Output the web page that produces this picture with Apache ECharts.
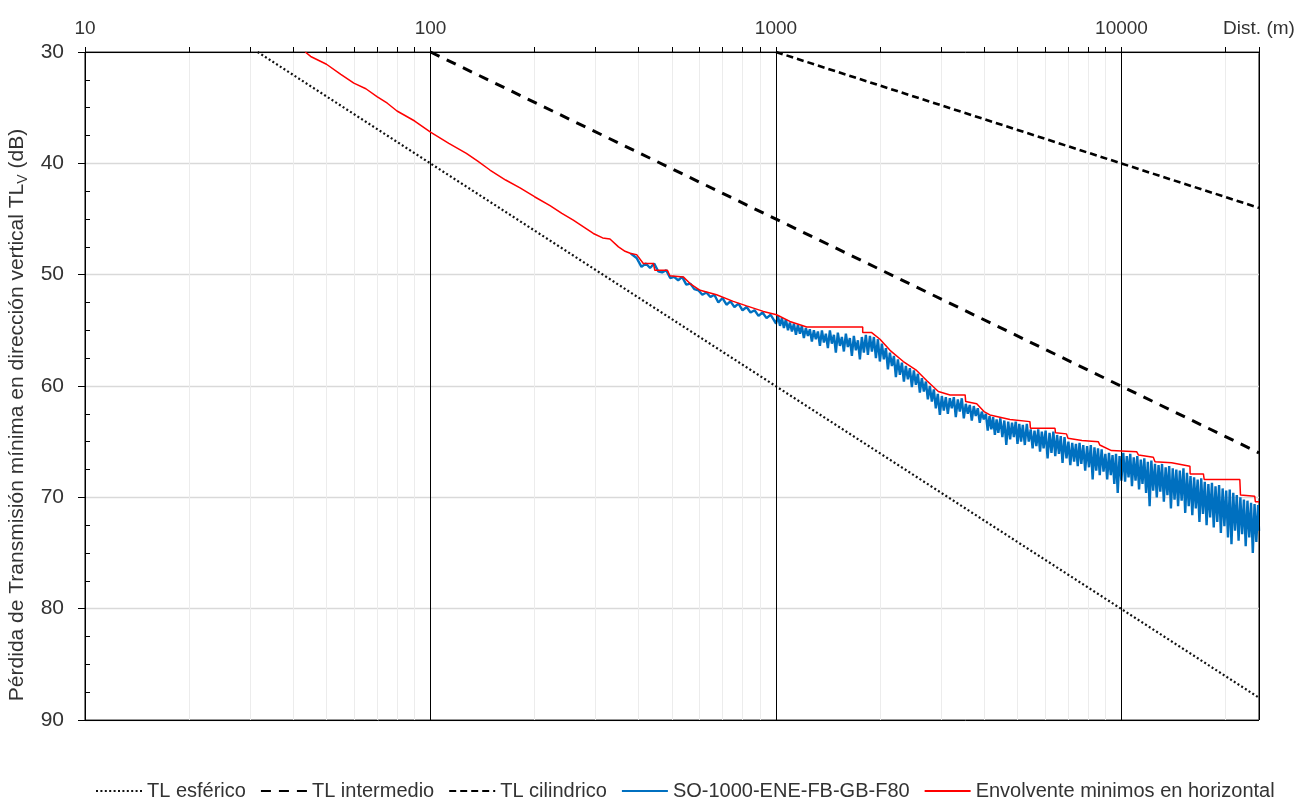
<!DOCTYPE html>
<html>
<head>
<meta charset="utf-8">
<script src="https://cdn.jsdelivr.net/npm/echarts@6/dist/echarts.min.js"></script>
<style>
html,body{margin:0;padding:0;background:#fff;}
#chart{width:1308px;height:804px;}
</style>
</head>
<body>
<div id="chart"></div>
<script>
// ---------- data ----------
const xTickValues = [10,20,30,40,50,60,70,80,90,100,200,300,400,500,600,700,800,900,1000,2000,3000,4000,5000,6000,7000,8000,9000,10000,20000,25000];
const xLabelValues = [10,100,1000,10000,25000];
const xAxisTitle = 'Dist. (m)';
const majorDistLines = [100,1000,10000,25000];

const seriesNames = ['TL esférico','TL intermedio','TL cilindrico','SO-1000-ENE-FB-GB-F80','Envolvente minimos en horizontal'];

const sphericalTL = [[31.6,30],[25000,88]];
const intermediateTL = [[100,30],[25000,66]];
const cylindricalTL = [[1000,30],[25000,44]];

const envelopeTL = [
[43.4,30.0],[45,30.4],[50,31.1],[55,32.0],[60,32.8],[65,33.3],[70,34.0],[75,34.6],[80,35.3],[90,36.2],
[100,37.2],[113,38.2],[127,39.1],[137,39.8],[148.6,40.6],[165,41.5],[181.6,42.2],[200,43.0],[221.8,43.8],[240,44.5],
[259,45.1],[280,45.8],[296,46.3],[315,46.7],[330.7,46.8],[350,47.5],[365.7,47.9],[380,48.1],[395,48.2],[413,49.0],
[441.6,49.0],[446,49.6],[485,49.6],[493,50.1],[539,50.2],[564,50.8],[603,51.4],[673,51.8],[752,52.4],[822,52.8],
[919,53.3],[1004,53.6],[1097,54.2],[1227,54.7],[1782,54.7],[1782,55.2],[1892,55.2],[2000,55.8],[2138,56.8],[2336,57.8],
[2552,58.6],[2728,59.5],[2950,60.5],[3190,60.8],[3527,60.8],[3540,61.4],[3810,61.6],[4000,62.3],[4160,62.6],[4755,63.0],
[5431,63.2],[5450,63.8],[6420,63.8],[6440,64.2],[6930,64.3],[7000,64.7],[7680,64.9],[8570,65.0],[8650,65.3],[9350,65.8],
[11060,65.9],[11200,66.2],[12360,66.4],[12500,66.8],[13960,66.9],[15780,67.2],[15800,67.9],[17260,67.9],[17350,68.4],[22000,68.4],
[22100,69.8],[24300,69.9],[24400,70.4],[25000,70.4]
];

const measuredTL = [
[380,48.1],[395,48.5],[408,49.3],[420,49.0],[432,49.4],[444,49.0],[456,49.7],[468,49.8],[481,49.6],[494,50.3],
[507,50.2],[521,50.5],[535,50.2],[550,50.9],[565,50.8],[580,51.3],[596,51.4],[612,51.8],[629,51.6],[646,52.0],
[663,51.8],[681,52.5],[700,52.1],[719,52.7],[738,52.4],[758,52.9],[779,52.6],[800,53.2],[822,52.9],[844,53.4],
[867,53.2],[890,53.7],[914,53.4],[939,53.9],[965,53.6],[991,54.2],
[1000,54.4],[1013,53.7],[1027,54.6],[1040,53.9],[1054,54.8],[1068,54.0],[1083,55.0],[1097,54.3],[1112,55.1],[1127,54.4],
[1142,55.4],[1157,54.5],[1173,55.3],[1188,54.6],[1204,55.7],[1220,54.8],[1237,55.5],[1253,54.9],[1270,56.0],[1287,55.0],
[1304,55.8],[1322,55.1],[1340,56.4],[1358,55.0],[1376,56.1],[1394,55.3],[1413,56.6],[1432,55.0],[1451,56.2],[1471,55.4],
[1490,57.0],[1510,55.2],[1531,56.4],[1551,55.6],[1572,56.9],[1593,55.3],[1614,56.5],[1636,55.7],[1658,57.3],[1680,55.5],
[1703,56.8],[1726,55.9],[1749,57.6],[1772,55.6],[1796,57.0],
[1820,55.4],[1845,57.2],[1870,55.5],[1895,56.9],[1920,55.6],[1946,57.5],[1972,55.8],[1998,57.8],[2025,56.2],[2052,57.6],
[2080,56.6],[2108,58.5],[2136,57.0],[2165,58.2],[2194,57.3],[2223,59.2],[2253,57.6],[2283,59.0],[2314,57.9],[2345,59.6],
[2376,58.2],[2408,59.4],[2440,58.4],[2473,60.1],[2506,58.6],[2540,59.9],[2574,58.9],[2608,60.6],[2643,59.3],[2679,60.5],
[2715,59.6],[2751,61.2],[2788,60.0],[2825,61.4],[2863,60.3],[2901,62.0],[2940,60.7],[2980,62.6],[3020,60.9],[3060,62.2],
[3101,61.0],[3143,62.5],[3185,61.1],[3227,62.0],[3271,61.0],[3314,62.8],[3359,61.2],[3404,62.3],[3449,61.1],[3496,62.9],
[3542,61.6],[3590,62.5],[3638,61.7],[3687,63.1],[3736,61.8],[3786,62.7],[3837,62.0],[3888,63.3],[3940,62.3],[3993,63.0],
[4050,62.5],[4100,64.0],[4150,62.7],[4200,63.9],[4250,62.8],[4300,64.4],[4350,63.0],[4400,64.2],[4460,62.9],[4520,64.6],
[4580,63.1],[4640,65.3],[4700,63.2],[4760,64.8],[4820,63.3],[4880,64.6],[4940,63.2],[5000,65.2],[5060,63.4],[5120,65.0],
[5180,63.5],[5250,65.3],[5320,63.4],[5390,65.0],[5460,63.9],[5530,65.6],[5600,64.0],[5670,65.4],[5740,63.9],[5810,65.9],
[5880,64.1],[5950,65.6],[6030,64.0],[6110,66.5],[6190,64.2],[6270,66.0],[6350,64.1],[6430,66.3],[6510,64.4],[6590,66.1],
[6670,64.5],[6750,66.9],[6840,64.6],[6930,66.5],[7020,65.0],[7110,67.1],[7200,65.1],[7290,66.8],[7380,65.2],[7470,67.2],
[7560,65.1],[7650,67.0],[7750,65.3],[7850,67.6],[7950,65.4],[8050,67.3],[8150,65.3],[8250,68.4],[8350,65.5],[8450,67.6],
[8550,65.6],[8650,68.0],[8760,65.7],[8870,67.7],[8980,66.1],[9090,68.4],[9200,66.0],[9310,68.0],[9420,66.2],[9530,68.8],
[9640,66.1],[9750,69.6],[9870,66.3],[9990,68.5],
[10120,66.0],[10240,68.6],[10360,66.3],[10480,68.2],[10600,66.1],[10720,69.0],[10850,66.4],[10980,68.5],[11110,66.3],[11240,69.3],
[11370,66.6],[11500,68.8],[11640,66.5],[11780,69.6],[11920,66.8],[12060,70.8],[12200,66.7],[12350,69.4],[12500,67.0],[12650,70.0],
[12800,67.1],[12950,69.5],[13100,67.0],[13260,70.4],[13420,67.3],[13580,69.8],[13740,67.2],[13900,71.0],[14070,67.4],[14240,70.2],
[14410,67.5],[14580,70.8],[14750,67.6],[14930,70.3],[15110,67.4],[15290,71.4],[15470,67.8],[15650,70.8],[15840,68.1],[16030,71.6],
[16220,68.2],[16410,71.0],[16610,68.4],[16810,72.2],[17010,68.3],[17210,71.5],[17420,68.6],[17630,72.5],[17840,68.8],[18050,71.8],
[18270,68.7],[18490,72.7],[18710,69.0],[18930,72.2],[19160,68.9],[19390,73.2],[19620,69.2],[19850,72.6],[20090,69.4],[20330,73.6],
[20570,69.3],[20810,74.2],[21060,69.6],[21310,73.0],[21560,69.8],[21820,73.9],[22080,70.0],[22340,73.3],[22610,70.2],[22880,74.4],
[23150,70.3],[23430,73.6],[23710,70.5],[23990,75.0],[24270,70.6],[24560,74.0],[24850,70.7],[25000,73.0]
];

// ---------- chart ----------
const FONT = 'Liberation Sans';
const TXT = '#333333';
const chart = echarts.init(document.getElementById('chart'), null, {renderer:'canvas'});

const option = {
  animation: false,
  backgroundColor: '#ffffff',
  textStyle: {fontFamily: FONT},
  grid: {left: 85, right: 49, top: 52, bottom: 84, show: true, borderColor: '#000', borderWidth: 1,
         containLabel: false, outerBoundsMode: 'none'},
  legend: {
    data: seriesNames,
    left: 95, top: 781, padding: 0,
    itemWidth: 46, itemHeight: 12, itemGap: 14,
    itemStyle: {opacity: 0},
    textStyle: {fontSize: 20, color: TXT, fontFamily: FONT}
  },
  xAxis: {
    type: 'log', logBase: 10, min: 10, max: 25000, position: 'top',
    axisLine: {show: true, lineStyle: {color: '#000', width: 1}},
    axisTick: {show: true, inside: false, length: 5, customValues: xTickValues, lineStyle: {color: '#000'}},
    axisLabel: {show: true, customValues: xLabelValues, margin: 14, fontSize: 19, color: TXT,
      formatter: v => (Math.round(v) === 25000 ? xAxisTitle : String(Math.round(v)))},
    splitLine: {show: true, lineStyle: {color: '#ececec', width: 1}},
    minorTick: {show: false}
  },
  yAxis: {
    type: 'value', inverse: true, min: 30, max: 90, interval: 10,
    name: '{a|Pérdida de Transmisión mínima en dirección vertical TL}{s|V}{a| (dB)}',
    nameLocation: 'middle', nameGap: 51,
    nameTextStyle: {color: TXT, padding: [0, 58, 0, 0],
      rich: {a: {fontSize: 21, lineHeight: 26, color: TXT, fontFamily: FONT},
             s: {fontSize: 14, lineHeight: 10, verticalAlign: 'bottom', color: TXT, fontFamily: FONT}}},
    axisLine: {show: true, lineStyle: {color: '#000', width: 1}},
    axisTick: {show: true, inside: false, length: 7, lineStyle: {color: '#000'}},
    minorTick: {show: true, splitNumber: 4, length: -5, lineStyle: {color: '#000'}},
    axisLabel: {margin: 21, fontSize: 21, color: TXT},
    splitLine: {show: true, lineStyle: {color: '#d9d9d9', width: 1.3}}
  },
  series: [
    {
      name: 'majorlines', type: 'line', data: [], silent: true, z: 1,
      markLine: {silent: true, symbol: ['none','none'], label: {show: false}, animation: false,
        lineStyle: {color: '#000', width: 1, type: 'solid'},
        emphasis: {disabled: true},
        data: majorDistLines.map(v => ({xAxis: v})).concat([{yAxis: 90}])}
    },
    {name: seriesNames[0], type: 'line', data: sphericalTL, symbol: 'none', z: 3,
      lineStyle: {color: '#111', width: 2.2, type: [2, 2.4]}, itemStyle: {color: '#111'}},
    {name: seriesNames[1], type: 'line', data: intermediateTL, symbol: 'none', z: 3,
      lineStyle: {color: '#000', width: 3, type: [10, 8]}, itemStyle: {color: '#000'}},
    {name: seriesNames[2], type: 'line', data: cylindricalTL, symbol: 'none', z: 3,
      lineStyle: {color: '#000', width: 2.6, type: [7, 4]}, itemStyle: {color: '#000'}},
    {name: seriesNames[3], type: 'line', data: measuredTL, symbol: 'none', z: 4,
      lineStyle: {color: '#0070C0', width: 2.4}, itemStyle: {color: '#0070C0'}},
    {name: seriesNames[4], type: 'line', data: envelopeTL, symbol: 'none', z: 5,
      lineStyle: {color: '#FF0000', width: 1.5}, itemStyle: {color: '#FF0000'}}
  ]
};
chart.setOption(option);
</script>
</body>
</html>
